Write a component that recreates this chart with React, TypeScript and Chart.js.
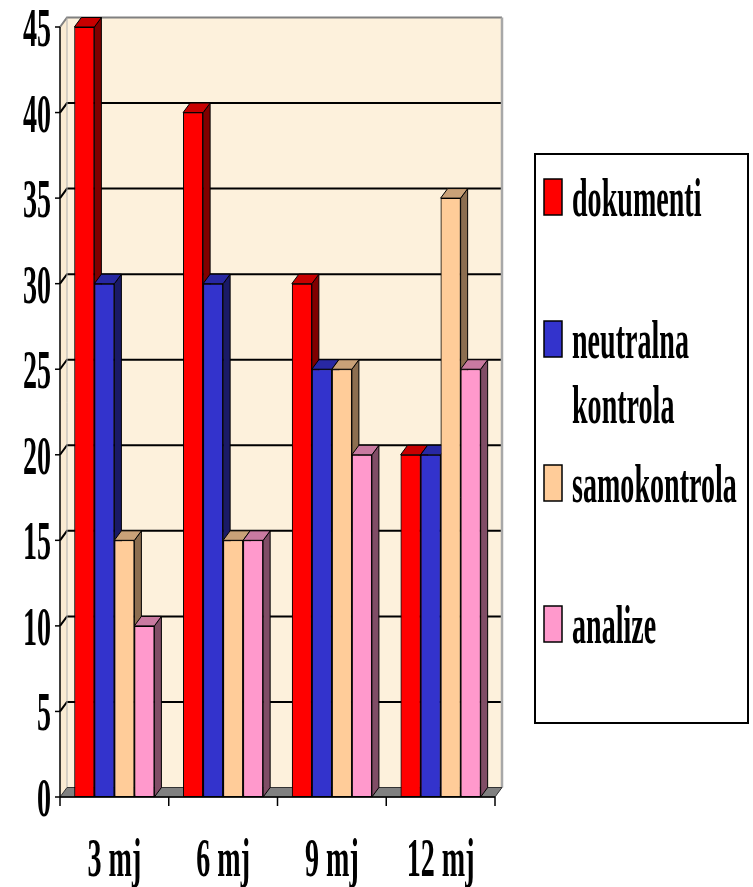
import React, { useEffect, useRef } from "react";
import { Chart, registerables } from "chart.js";

Chart.register(...registerables);

const categories = ["3 mj", "6 mj", "9 mj", "12 mj"];
const seriesNames = ["dokumenti", "neutralna kontrola", "samokontrola", "analize"];
const dokumenti = [45, 40, 30, 20];
const neutralna = [30, 30, 25, 20];
const samokontrola = [15, 15, 25, 35];
const analize = [10, 15, 20, 25];
const yTicks = [0, 5, 10, 15, 20, 25, 30, 35, 40, 45];

const frontColors = ["#FF0000", "#3333CC", "#FFCC99", "#FF99CC"];
const topColors = ["#C80000", "#2828A3", "#C9A178", "#C97AA1"];
const sideColors = ["#800000", "#1A1A66", "#8C6E50", "#804D66"];
const legendLines = [["dokumenti"], ["neutralna", "kontrola"], ["samokontrola"], ["analize"]];

const W = 753;
const H = 887;
const DX = 7;
const DY = -9.5;
const FONT = 'bold 54px "Liberation Serif"';
const SX = 0.52;

function condensedText(ctx: CanvasRenderingContext2D, text: string, x: number, y: number, align: CanvasTextAlign) {
  ctx.save();
  ctx.translate(x, y);
  ctx.scale(SX, 1);
  ctx.font = FONT;
  ctx.fillStyle = "#000";
  ctx.textAlign = align;
  ctx.textBaseline = "alphabetic";
  ctx.fillText(text, 0, 0);
  ctx.restore();
}

const wallPlugin = {
  id: "wall3d",
  beforeDatasetsDraw(chart: any) {
    const ctx: CanvasRenderingContext2D = chart.ctx;
    const { left, right, top, bottom } = chart.chartArea;
    const y = chart.scales.y;
    ctx.save();
    // back wall
    ctx.fillStyle = "#FDF1DC";
    ctx.fillRect(left + DX, top + DY, right - left, bottom - top);
    // left wall
    ctx.beginPath();
    ctx.moveTo(left, top);
    ctx.lineTo(left + DX, top + DY);
    ctx.lineTo(left + DX, bottom + DY);
    ctx.lineTo(left, bottom);
    ctx.closePath();
    ctx.fillStyle = "#FAEBD2";
    ctx.fill();
    // gridlines
    ctx.strokeStyle = "#000";
    ctx.lineWidth = 2;
    for (const v of yTicks) {
      if (v === 0 || v === 45) continue;
      const py = y.getPixelForValue(v);
      ctx.beginPath();
      ctx.moveTo(left, py);
      ctx.lineTo(left + DX, py + DY);
      ctx.lineTo(right + DX, py + DY);
      ctx.stroke();
    }
    // top edge and right edge of back wall
    ctx.strokeStyle = "#808080";
    ctx.lineWidth = 2;
    ctx.beginPath();
    ctx.moveTo(left, top);
    ctx.lineTo(left + DX, top + DY);
    ctx.lineTo(right + DX, top + DY);
    ctx.stroke();
    ctx.strokeStyle = "#A8A8A8";
    ctx.lineWidth = 2.5;
    ctx.beginPath();
    ctx.moveTo(right + DX, top + DY);
    ctx.lineTo(right + DX, bottom + DY);
    ctx.stroke();
    ctx.strokeStyle = "#B0B0B0";
    ctx.lineWidth = 1;
    ctx.beginPath();
    ctx.moveTo(left + DX, top + DY);
    ctx.lineTo(left + DX, bottom + DY);
    ctx.stroke();
    // floor
    ctx.beginPath();
    ctx.moveTo(left, bottom);
    ctx.lineTo(right, bottom);
    ctx.lineTo(right + DX, bottom + DY);
    ctx.lineTo(left + DX, bottom + DY);
    ctx.closePath();
    ctx.fillStyle = "#808080";
    ctx.fill();
    ctx.strokeStyle = "#333";
    ctx.lineWidth = 1;
    ctx.stroke();
    ctx.restore();
  },
  afterDatasetsDraw(chart: any) {
    const ctx: CanvasRenderingContext2D = chart.ctx;
    const n = chart.data.datasets.length;
    for (let i = 0; i < n; i++) {
      const meta = chart.getDatasetMeta(i);
      for (const bar of meta.data) {
        // front face drawn by the library's bar element
        bar.draw(ctx, chart.chartArea);
        const p = bar.getProps(["x", "y", "base", "width"], true);
        const l = p.x - p.width / 2;
        const r = p.x + p.width / 2;
        const t = p.y;
        const b = p.base;
        ctx.save();
        ctx.strokeStyle = "#000";
        ctx.lineWidth = 1;
        ctx.lineJoin = "round";
        // side
        ctx.beginPath();
        ctx.moveTo(r, t);
        ctx.lineTo(r + DX, t + DY);
        ctx.lineTo(r + DX, b + DY);
        ctx.lineTo(r, b);
        ctx.closePath();
        ctx.fillStyle = sideColors[i];
        ctx.fill();
        ctx.stroke();
        // top
        ctx.beginPath();
        ctx.moveTo(l, t);
        ctx.lineTo(r, t);
        ctx.lineTo(r + DX, t + DY);
        ctx.lineTo(l + DX, t + DY);
        ctx.closePath();
        ctx.fillStyle = topColors[i];
        ctx.fill();
        ctx.stroke();
        ctx.restore();
      }
    }
  },
  afterDraw(chart: any) {
    const ctx: CanvasRenderingContext2D = chart.ctx;
    const { left, right, top, bottom } = chart.chartArea;
    const x = chart.scales.x;
    const y = chart.scales.y;
    ctx.save();
    ctx.strokeStyle = "#000";
    ctx.lineWidth = 1.5;
    // y axis
    ctx.beginPath();
    ctx.moveTo(left, top);
    ctx.lineTo(left, bottom);
    ctx.stroke();
    for (const v of yTicks) {
      const py = y.getPixelForValue(v);
      ctx.beginPath();
      ctx.moveTo(left - 5, py);
      ctx.lineTo(left, py);
      ctx.stroke();
      condensedText(ctx, String(v), left - 9, py + 19, "right");
    }
    // x axis
    ctx.beginPath();
    ctx.moveTo(left, bottom);
    ctx.lineTo(right, bottom);
    ctx.stroke();
    const n = categories.length;
    const cw = (right - left) / n;
    for (let k = 0; k <= n; k++) {
      const px = left + k * cw;
      ctx.beginPath();
      ctx.moveTo(px, bottom);
      ctx.lineTo(px, bottom + 9);
      ctx.stroke();
    }
    categories.forEach((c, k) => {
      condensedText(ctx, c, x.getPixelForValue(k), bottom + 79, "center");
    });
    // legend
    ctx.lineWidth = 2;
    ctx.strokeStyle = "#000";
    ctx.fillStyle = "#fff";
    ctx.fillRect(535, 154, 213, 569);
    ctx.strokeRect(535, 154, 213, 569);
    const baselines = [216, 358, 502, 643];
    chart.data.datasets.forEach((ds: any, k: number) => {
      const bl = baselines[k];
      ctx.fillStyle = ds.backgroundColor;
      ctx.fillRect(544, bl - 37, 18, 36);
      ctx.lineWidth = 1.5;
      ctx.strokeRect(544, bl - 37, 18, 36);
      legendLines[k].forEach((line, j) => {
        condensedText(ctx, line, 572, bl + j * 65, "left");
      });
    });
    ctx.restore();
  },
};

export default function App() {
  const ref = useRef<HTMLCanvasElement | null>(null);
  useEffect(() => {
    if (!ref.current) return;
    const values = [dokumenti, neutralna, samokontrola, analize];
    const chart = new Chart(ref.current, {
      type: "bar",
      data: {
        labels: categories,
        datasets: values.map((d, i) => ({
          label: seriesNames[i],
          data: d,
          backgroundColor: frontColors[i],
          borderColor: "#000",
          borderWidth: 1,
          borderSkipped: false,
          categoryPercentage: 0.736,
          barPercentage: 1,
        })),
      },
      options: {
        animation: false,
        responsive: false,
        devicePixelRatio: 1,
        layout: { padding: { left: 60, right: W - 495, top: 27, bottom: H - 797 } },
        scales: {
          x: { display: false },
          y: { display: false, min: 0, max: 45 },
        },
        plugins: { legend: { display: false }, tooltip: { enabled: false } },
      },
      plugins: [wallPlugin],
    });
    return () => chart.destroy();
  }, []);
  return (
    <div style={{ position: "fixed", left: 0, top: 0, width: W, height: H, background: "#fff" }}>
      <canvas ref={ref} width={W} height={H} />
    </div>
  );
}
